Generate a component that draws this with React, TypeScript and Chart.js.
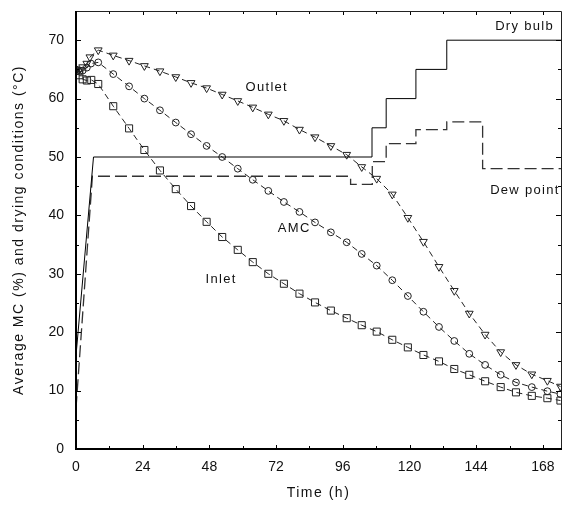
import React, { useEffect, useRef } from "react";
import { Chart, registerables } from "chart.js";
Chart.register(...registerables);

// ---- data (hours, values) ----
const markerTimes = [8.0, 13.4, 19.1, 24.6, 30.2, 35.9, 41.4, 47.0, 52.6, 58.2, 63.6, 69.2, 74.8, 80.4, 86.0, 91.7, 97.4, 102.8, 108.2, 113.8, 119.4, 125.0, 130.6, 136.1, 141.5, 147.2, 152.8, 158.3, 164.0, 169.6, 174.3];

const outletEarlyTimes = [0, 1.2, 2.4, 3.9, 5.0];
const outletEarlyValues = [64.8, 64.9, 65.4, 66.0, 67.1];
const outletValues = [68.3, 67.4, 66.5, 65.6, 64.7, 63.7, 62.7, 61.8, 60.7, 59.6, 58.5, 57.3, 56.2, 54.7, 53.4, 51.9, 50.4, 48.3, 46.3, 43.6, 39.6, 35.5, 31.2, 27.1, 23.2, 19.6, 16.6, 14.4, 12.8, 11.7, 10.7];

const amcEarlyTimes = [0, 1.2, 2.4, 3.9, 5.4];
const amcEarlyValues = [65.0, 64.6, 64.8, 65.3, 66.0];
const amcValues = [66.2, 64.2, 62.1, 60.0, 58.0, 55.9, 53.9, 51.9, 50.0, 48.0, 46.1, 44.2, 42.3, 40.6, 38.8, 37.1, 35.4, 33.4, 31.4, 28.9, 26.2, 23.5, 20.9, 18.5, 16.3, 14.4, 12.7, 11.4, 10.6, 9.9, 9.4];

const inletEarlyTimes = [0, 1.2, 2.4, 3.9, 5.5];
const inletEarlyValues = [64.8, 64.0, 63.3, 63.1, 63.2];
const inletValues = [62.5, 58.7, 54.9, 51.2, 47.7, 44.5, 41.6, 38.9, 36.3, 34.1, 32.0, 30.0, 28.3, 26.6, 25.1, 23.7, 22.4, 21.2, 20.1, 18.7, 17.4, 16.1, 15.0, 13.7, 12.7, 11.6, 10.6, 9.7, 9.1, 8.7, 8.3];

const dryBulbTimes = [0, 6.3, 106.5, 106.5, 111.6, 111.6, 122.3, 122.3, 133.4, 133.4, 174.5];
const dryBulbValues = [16, 50, 50, 55, 55, 60, 60, 65, 65, 70, 70];

const dewPointTimes = [0, 5.9, 98.8, 98.8, 106.6, 106.6, 111.6, 111.6, 122.3, 122.3, 133.4, 133.4, 146.3, 146.3, 174.5];
const dewPointValues = [7, 46.7, 46.7, 45.3, 45.3, 49.2, 49.2, 52.3, 52.3, 54.7, 54.7, 56.0, 56.0, 48.0, 48.0];

const xTickValues = [0, 24, 48, 72, 96, 120, 144, 168];
const yTickValues = [0, 10, 20, 30, 40, 50, 60, 70];

const seriesLabels = ["Dry bulb", "Outlet", "AMC", "Inlet", "Dew point"];
// label anchor (left edge, vertical middle) in data units
const labelTimes = [150.8, 61.0, 72.6, 46.6, 149.0];
const labelValues = [72.4, 61.9, 37.8, 29.1, 44.3];

const xTitle = "Time (h)";
const yTitle = "Average MC (%) and drying conditions (°C)";

const FONT = '"Liberation Sans", Arial, sans-serif';

const pts = (ts: number[], vs: number[]) => ts.map((t, i) => ({ x: t, y: vs[i] }));

const decor = {
  id: "decor",
  afterDraw(chart: any) {
    const { ctx, chartArea: a, scales } = chart;
    const x = scales.x;
    const y = scales.y;
    ctx.save();
    ctx.strokeStyle = "#000";
    ctx.lineWidth = 1;
    ctx.beginPath();
    for (let t = 0; t <= 168; t += 12) {
      const px = Math.round(x.getPixelForValue(t)) + 0.5;
      const len = t % 24 === 0 ? 4 : 3;
      ctx.moveTo(px, a.bottom);
      ctx.lineTo(px, a.bottom - len);
      ctx.moveTo(px, a.top);
      ctx.lineTo(px, a.top + len);
    }
    for (let v = 0; v <= 75; v += 5) {
      const py = Math.round(y.getPixelForValue(v)) + 0.5;
      const len = v % 10 === 0 ? 5 : 3;
      ctx.moveTo(a.left, py);
      ctx.lineTo(a.left + len, py);
      ctx.moveTo(a.right, py);
      ctx.lineTo(a.right - len, py);
    }
    ctx.stroke();
    // frame
    ctx.lineWidth = 1;
    ctx.strokeStyle = "#222";
    ctx.beginPath();
    ctx.moveTo(a.left, a.top + 0.5);
    ctx.lineTo(a.right + 0.5, a.top + 0.5);
    ctx.lineTo(a.right + 0.5, a.bottom);
    ctx.stroke();
    ctx.lineWidth = 2;
    ctx.strokeStyle = "#000";
    ctx.beginPath();
    ctx.moveTo(a.left, a.top);
    ctx.lineTo(a.left, a.bottom);
    ctx.lineTo(a.right + 1, a.bottom);
    ctx.stroke();

    // series labels
    ctx.fillStyle = "#111";
    ctx.font = `13px ${FONT}`;
    (ctx as any).letterSpacing = "1.3px";
    ctx.textAlign = "left";
    ctx.textBaseline = "middle";
    seriesLabels.forEach((s, i) => {
      ctx.fillText(s, x.getPixelForValue(labelTimes[i]), y.getPixelForValue(labelValues[i]));
    });

    // axis titles
    ctx.font = `14px ${FONT}`;
    (ctx as any).letterSpacing = "1.5px";
    ctx.textAlign = "center";
    ctx.fillText(xTitle, (a.left + a.right) / 2, 493);
    ctx.translate(19, (a.top + a.bottom) / 2);
    ctx.rotate(-Math.PI / 2);
    ctx.fillText(yTitle, 0, 0);
    ctx.restore();
  },
};

export default function App() {
  const ref = useRef<HTMLCanvasElement | null>(null);
  useEffect(() => {
    if (!ref.current) return;
    const markerLine = {
      borderColor: "#222",
      borderWidth: 1,
      borderDash: [6, 4],
      pointBorderColor: "#222",
      pointBackgroundColor: "rgba(0,0,0,0)",
      pointBorderWidth: 1,
      fill: false,
      tension: 0,
    };
    const chart = new Chart(ref.current, {
      type: "line",
      data: {
        datasets: [
          {
            label: "Dry bulb",
            data: pts(dryBulbTimes, dryBulbValues),
            borderColor: "#000",
            borderWidth: 1,
            pointRadius: 0,
            fill: false,
          },
          {
            label: "Dew point",
            data: pts(dewPointTimes, dewPointValues),
            borderColor: "#333",
            borderWidth: 1.3,
            borderDash: [12, 5],
            pointRadius: 0,
            fill: false,
          },
          {
            label: "Outlet",
            data: pts(outletEarlyTimes.concat(markerTimes), outletEarlyValues.concat(outletValues)),
            ...markerLine,
            pointStyle: "triangle",
            pointRotation: 180,
            pointRadius: 4.5,
          },
          {
            label: "AMC",
            data: pts(amcEarlyTimes.concat(markerTimes), amcEarlyValues.concat(amcValues)),
            ...markerLine,
            pointStyle: "circle",
            pointRadius: 3.4,
          },
          {
            label: "Inlet",
            data: pts(inletEarlyTimes.concat(markerTimes), inletEarlyValues.concat(inletValues)),
            ...markerLine,
            pointStyle: "rect",
            pointRadius: 5,
          },
        ],
      },
      options: {
        animation: false,
        responsive: false,
        devicePixelRatio: 1,
        layout: { padding: { top: 11, right: 6, left: 0, bottom: 0 } },
        plugins: { legend: { display: false }, tooltip: { enabled: false } },
        scales: {
          x: {
            type: "linear",
            min: 0,
            max: 174.5,
            border: { display: false },
            grid: { display: false, drawTicks: false },
            afterFit: (s: any) => {
              s.height = 64;
              s.paddingLeft = 0;
              s.paddingRight = 0;
            },
            afterBuildTicks: (s: any) => {
              s.ticks = xTickValues.map((v) => ({ value: v }));
            },
            ticks: {
              padding: 10,
              color: "#111",
              font: { family: FONT, size: 14 },
              maxRotation: 0,
              autoSkip: false,
            },
          },
          y: {
            type: "linear",
            min: 0,
            max: 75,
            border: { display: false },
            grid: { display: false, drawTicks: false },
            afterFit: (s: any) => {
              s.width = 76;
              s.paddingTop = 0;
              s.paddingBottom = 0;
            },
            afterBuildTicks: (s: any) => {
              s.ticks = yTickValues.map((v) => ({ value: v }));
            },
            ticks: {
              padding: 12,
              color: "#111",
              font: { family: FONT, size: 14 },
              autoSkip: false,
            },
          },
        },
      },
      plugins: [decor],
    });
    return () => chart.destroy();
  }, []);
  return (
    <div style={{ position: "absolute", left: 0, top: 0, width: 567, height: 513, background: "#fff" }}>
      <canvas ref={ref} width={567} height={513} />
    </div>
  );
}
